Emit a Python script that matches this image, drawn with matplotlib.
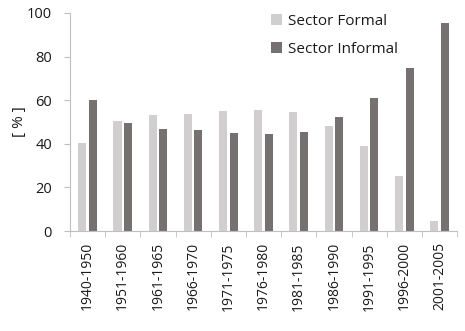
import matplotlib
matplotlib.use("Agg")
import matplotlib.pyplot as plt
import numpy as np

categories = ["1940-1950", "1951-1960", "1961-1965", "1966-1970", "1971-1975",
              "1976-1980", "1981-1985", "1986-1990", "1991-1995", "1996-2000", "2001-2005"]
formal = [40.2, 50.5, 53.4, 53.7, 55.2, 55.5, 54.7, 48.0, 39.0, 25.2, 4.6]
informal = [60.1, 49.5, 46.6, 46.3, 45.1, 44.5, 45.3, 52.2, 61.0, 74.8, 95.4]
yticks = [0, 20, 40, 60, 80, 100]

plt.rcParams['font.family'] = ['Open Sans', 'DejaVu Sans']

fig = plt.figure(figsize=(4.65, 3.31), dpi=100)
ax = fig.add_axes([0.1505, 0.302, 0.8325, 0.659])

x = np.arange(len(categories))
w = 0.23
ax.bar(x - 0.15, formal, width=w, color="#d0cece", label="Sector Formal")
ax.bar(x + 0.15, informal, width=w, color="#767171", label="Sector Informal")

ax.set_xlim(-0.5, len(categories) - 0.5)
ax.set_ylim(0, 100)
ax.set_yticks(yticks)
ax.set_yticklabels([str(v) for v in yticks], fontsize=10.5, color="#1a1a1a")
ax.set_xticks(x)
ax.set_xticklabels(categories, rotation=90, fontsize=10, color="#1a1a1a")
ax.tick_params(axis='x', length=0, pad=8)
ax.set_xticks(np.arange(len(categories) + 1) - 0.5, minor=True)
ax.tick_params(axis='x', which='minor', length=4, color="#bfbfbf")
ax.tick_params(axis='y', length=4, color="#bfbfbf", pad=9)

for s in ["top", "right"]:
    ax.spines[s].set_visible(False)
for s in ["left", "bottom"]:
    ax.spines[s].set_color("#bfbfbf")

ax.set_ylabel("[ % ]", fontsize=11, labelpad=0, color="#1a1a1a")

ax.legend(loc="upper left", bbox_to_anchor=(0.485, 1.06), frameon=False, fontsize=11,
          handlelength=0.7, handleheight=0.7, handletextpad=0.35, labelspacing=0.85,
          labelcolor="#1a1a1a")

fig.savefig("out.png", dpi=100)
